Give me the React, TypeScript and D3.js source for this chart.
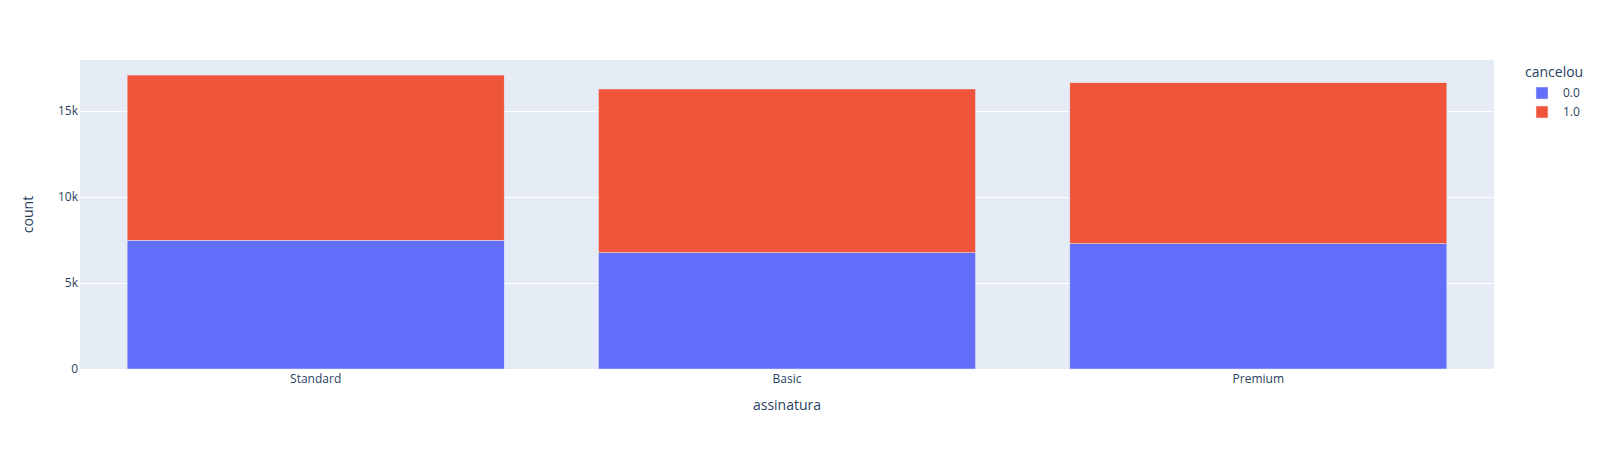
import { useEffect, useRef } from "react";
import * as d3 from "d3";

// data
const categories = ["Standard", "Basic", "Premium"];
const seriesNames = ["0.0", "1.0"];
const countCancel0 = [7480, 6760, 7285];
const countCancel1 = [9610, 9520, 9360];
const yTicks = [0, 5000, 10000, 15000];
const yTickLabels = ["0", "5k", "10k", "15k"];

const colors = ["#636efa", "#EF553B"];
const FONT = '"Open Sans", verdana, arial, sans-serif';
const TEXT = "#2a3f5f";

export default function App() {
  const svgRef = useRef<SVGSVGElement | null>(null);
  const width = 1600;
  const height = 450;
  const margin = { top: 60, right: 106, bottom: 81, left: 80 };

  useEffect(() => {
    if (!svgRef.current) return;
    const svg = d3.select(svgRef.current);
    svg.selectAll("*").remove();

    const innerW = width - margin.left - margin.right;
    const innerH = height - margin.top - margin.bottom;

    const rows = categories.map((c, i) => ({
      cat: c,
      "0.0": countCancel0[i],
      "1.0": countCancel1[i],
    }));
    const stacked = d3.stack<any>().keys(seriesNames)(rows);
    const maxTotal = d3.max(rows, (r) => r["0.0"] + r["1.0"]) as number;

    const x = d3.scaleBand().domain(categories).range([0, innerW]).paddingInner(0.2).paddingOuter(0.1);
    const y = d3.scaleLinear().domain([0, maxTotal * 1.0512]).range([innerH, 0]);

    const g = svg.append("g").attr("transform", `translate(${margin.left},${margin.top})`);

    // background
    g.append("rect").attr("width", innerW).attr("height", innerH).attr("fill", "#E5ECF6");

    // gridlines
    g.selectAll(".grid")
      .data(yTicks.filter((t) => t > 0))
      .join("line")
      .attr("x1", 0)
      .attr("x2", innerW)
      .attr("y1", (d) => Math.round(y(d)) + 0.5)
      .attr("y2", (d) => Math.round(y(d)) + 0.5)
      .attr("stroke", "#fff")
      .attr("stroke-width", 1);

    // bars
    stacked.forEach((layer, li) => {
      g.append("g")
        .selectAll("rect")
        .data(layer)
        .join("rect")
        .attr("x", (d: any) => x(d.data.cat) as number)
        .attr("width", x.bandwidth())
        .attr("y", (d) => y(d[1]))
        .attr("height", (d) => y(d[0]) - y(d[1]))
        .attr("fill", colors[li])
        .attr("stroke", "#E5ECF6")
        .attr("stroke-width", 0.5);
    });

    // y tick labels
    g.selectAll(".ytick")
      .data(yTicks)
      .join("text")
      .attr("x", -2)
      .attr("y", (d) => y(d))
      .attr("dy", "0.35em")
      .attr("text-anchor", "end")
      .style("font-family", FONT)
      .style("font-size", "12px")
      .style("fill", TEXT)
      .text((d, i) => yTickLabels[i]);

    // x tick labels
    g.selectAll(".xtick")
      .data(categories)
      .join("text")
      .attr("x", (d) => (x(d) as number) + x.bandwidth() / 2)
      .attr("y", innerH + 14)
      .attr("text-anchor", "middle")
      .style("font-family", FONT)
      .style("font-size", "12px")
      .style("fill", TEXT)
      .text((d) => d);

    // axis titles
    g.append("text")
      .attr("x", innerW / 2)
      .attr("y", innerH + 41)
      .attr("text-anchor", "middle")
      .style("font-family", FONT)
      .style("font-size", "14px")
      .style("fill", TEXT)
      .text("assinatura");

    g.append("text")
      .attr("transform", `translate(${-47},${innerH / 2}) rotate(-90)`)
      .attr("text-anchor", "middle")
      .style("font-family", FONT)
      .style("font-size", "14px")
      .style("fill", TEXT)
      .text("count");

    // legend
    const legend = svg.append("g").attr("transform", `translate(1525,0)`);
    legend.append("text")
      .attr("x", 0)
      .attr("y", 77)
      .style("font-family", FONT)
      .style("font-size", "14px")
      .style("fill", TEXT)
      .text("cancelou");

    const items = legend.selectAll(".item")
      .data(seriesNames)
      .join("g")
      .attr("transform", (d, i) => `translate(0,${93 + i * 19})`);
    items.append("rect")
      .attr("x", 11)
      .attr("y", -6)
      .attr("width", 12)
      .attr("height", 12)
      .attr("fill", (d, i) => colors[i])
      .attr("stroke", "#E5ECF6")
      .attr("stroke-width", 0.5);
    items.append("text")
      .attr("x", 38)
      .attr("y", 0)
      .attr("dy", "0.35em")
      .style("font-family", FONT)
      .style("font-size", "12px")
      .style("fill", TEXT)
      .text((d) => d);
  }, []);

  return (
    <svg
      ref={svgRef}
      width={width}
      height={height}
      style={{ position: "absolute", top: 0, left: 0, background: "#fff" }}
    />
  );
}
